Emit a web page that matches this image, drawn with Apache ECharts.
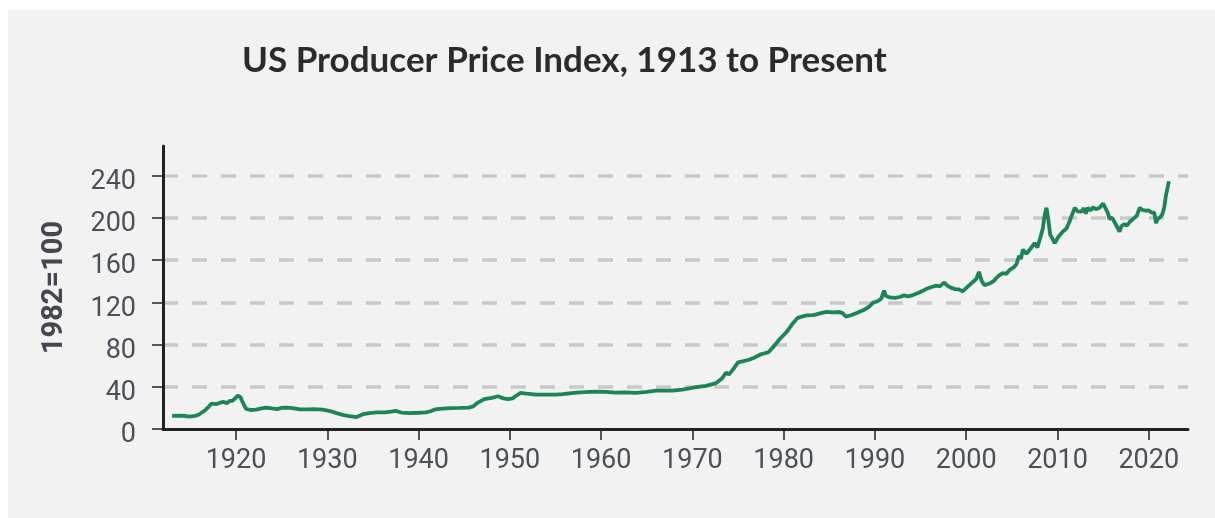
<!DOCTYPE html>
<html>
<head>
<meta charset="utf-8">
<script src="https://cdn.jsdelivr.net/npm/echarts@6/dist/echarts.min.js"></script>
<style>
  html, body { margin: 0; padding: 0; background: #fff; }
  #panel { position: absolute; left: 8px; top: 10px; width: 1207px; height: 508px; background: #f2f2f2; }
  #main { position: absolute; left: 0; top: 0; width: 1215px; height: 518px; }
</style>
</head>
<body>
<div id="panel"></div>
<div id="main"></div>
<script>
// PPI (1982=100)
var years = [
  1913.0, 1913.8, 1914.5, 1914.9, 1915.5, 1915.9, 1916.5, 1917.0, 1917.3, 1917.8,
  1918.3, 1918.6, 1919.0, 1919.3, 1919.6, 1919.9, 1920.2, 1920.5, 1920.8, 1921.1,
  1921.6, 1922.2, 1922.8, 1923.3, 1923.9, 1924.5, 1925.0, 1925.5, 1926.2, 1927.0,
  1927.8, 1928.5, 1929.5, 1930.3, 1931.0, 1931.8, 1932.4, 1933.2, 1933.6, 1933.9,
  1934.6, 1935.4, 1936.3, 1937.0, 1937.5, 1938.1, 1939.0, 1940.0, 1940.8, 1941.3,
  1941.8, 1942.3, 1943.5, 1944.5, 1945.5, 1946.0, 1946.5, 1947.2, 1948.0, 1948.7,
  1949.3, 1949.8, 1950.3, 1950.6, 1951.2, 1951.8, 1952.9, 1954.0, 1955.0, 1955.8,
  1957.0, 1958.2, 1959.4, 1960.5, 1961.6, 1962.7, 1963.8, 1965.0, 1966.0, 1966.7,
  1967.8, 1968.9, 1969.8, 1970.4, 1971.5, 1972.6, 1973.2, 1973.5, 1973.7, 1974.0,
  1974.5, 1975.0, 1975.5, 1976.2, 1976.9, 1977.5, 1978.3, 1978.9, 1979.5, 1980.0,
  1980.4, 1981.0, 1981.5, 1982.0, 1982.5, 1983.2, 1983.6, 1984.2, 1984.7, 1985.3,
  1986.1, 1986.5, 1986.8, 1987.3, 1987.6, 1988.2, 1988.7, 1989.3, 1989.8, 1990.3,
  1990.7, 1991.0, 1991.2, 1991.6, 1992.2, 1992.7, 1993.2, 1993.6, 1994.1, 1994.8,
  1995.6, 1996.2, 1996.7, 1997.1, 1997.6, 1997.9, 1998.3, 1998.8, 1999.2, 1999.6,
  2000.2, 2000.7, 2001.1, 2001.4, 2001.7, 2002.0, 2002.5, 2003.0, 2003.3, 2003.6,
  2004.0, 2004.4, 2004.8, 2005.2, 2005.5, 2005.8, 2006.0, 2006.2, 2006.6, 2007.1,
  2007.5, 2007.8, 2008.1, 2008.4, 2008.6, 2008.8, 2009.0, 2009.2, 2009.4, 2009.7,
  2010.1, 2010.6, 2011.0, 2011.3, 2011.6, 2011.9, 2012.2, 2012.6, 2012.9, 2013.1,
  2013.3, 2013.6, 2013.9, 2014.2, 2014.6, 2015.0, 2015.2, 2015.5, 2015.7, 2016.0,
  2016.2, 2016.5, 2016.8, 2017.0, 2017.3, 2017.6, 2017.9, 2018.3, 2018.7, 2019.0,
  2019.3, 2019.7, 2020.0, 2020.3, 2020.6, 2020.8, 2021.0, 2021.3, 2021.5, 2021.7,
  2021.9, 2022.1, 2022.2
];
var ppi = [
  12.5, 12.6, 12.3, 11.8, 12.4, 13.5, 17, 21, 24, 23.5,
  25, 25.7, 24.5, 26.5, 26.7, 29, 31.7, 30, 24, 19,
  18, 18.3, 19.5, 20.3, 19.5, 18.8, 20, 20.3, 19.8, 18.5,
  18.6, 18.8, 18.3, 17, 15, 13.2, 12.3, 11.3, 12.8, 14,
  15, 15.7, 15.8, 16.5, 17.2, 15.6, 15.1, 15.4, 15.8, 16.8,
  18.5, 19, 19.8, 20, 20.3, 21.5, 25, 28.3, 29.5, 31,
  29, 28.3, 29, 31, 34.3, 33.5, 32.5, 32.5, 32.6, 33,
  34.3, 35, 35.3, 35.2, 34.5, 34.6, 34.3, 35.2, 36.3, 36.3,
  36.4, 37.2, 38.6, 39.7, 40.8, 43.5, 47.5, 51, 53.5, 51.5,
  57, 63, 64, 65.6, 68, 70.8, 72.5, 78, 84.5, 89,
  92.7, 100, 105, 106.5, 107.6, 107.8, 108.5, 110, 111, 110.5,
  110.8, 109.5, 106.5, 107.5, 108.5, 110.5, 112.4, 115.5, 119.7, 121,
  123.5, 131, 126, 124.7, 124.2, 125, 126.5, 125.6, 126.6, 129,
  132.5, 134.5, 135.7, 135, 138.8, 136, 133.9, 132.5, 132.2, 130.4,
  135, 139, 142, 148.8, 140, 136.2, 137.5, 140, 143, 145.5,
  147.5, 147, 151, 153, 156, 164, 161, 170, 166, 171.4,
  176, 172, 180.7, 190, 203, 209.5, 198, 184, 181, 176,
  182, 187, 190, 196, 203, 209.5, 206, 205.8, 209, 204,
  209.5, 207, 210, 208, 209.5, 213.5, 213, 205, 199, 200,
  199, 192, 187, 192, 194, 192.5, 196, 199, 202, 209.5,
  207.5, 206.7, 207, 205, 205, 195, 199, 201, 203.5, 210,
  222, 230, 234.6
];
var yTicks = [0, 40, 80, 120, 160, 200, 240];
var xTicks = [1920, 1930, 1940, 1950, 1960, 1970, 1980, 1990, 2000, 2010, 2020];

var lineData = years.map(function (y, i) { return [y, ppi[i]]; });

var myChart = echarts.init(document.getElementById('main'));
var option = {
    backgroundColor: 'transparent',
    animation: false,
    title: {
        text: 'US Producer Price Index, 1913 to Present',
        left: 237,
        top: 38,
        textStyle: {
            fontFamily: 'Lato',
            fontWeight: 'bold',
            fontSize: 35,
            color: '#2b2b2e'
        }
    },
    grid: {
        left: 163,
        right: 27,
        top: 146,
        bottom: 89
    },
    xAxis: {
        type: 'value',
        min: 1912,
        max: 2024.3,
        axisLine: { lineStyle: { color: '#222', width: 3 } },
        axisTick: {
            customValues: xTicks,
            length: 11,
            lineStyle: { color: '#222', width: 1.5 }
        },
        axisLabel: {
            customValues: xTicks,
            margin: 19,
            fontFamily: 'Roboto',
            fontSize: 27,
            color: '#4b4f58',
            formatter: function (v) { return String(v); }
        },
        splitLine: { show: false }
    },
    yAxis: {
        type: 'value',
        min: 0,
        max: 268,
        name: '1982=100',
        nameLocation: 'middle',
        nameRotate: 90,
        nameGap: 94,
        nameTextStyle: {
            fontFamily: 'Roboto',
            fontWeight: 'bold',
            fontSize: 29,
            color: '#44474f'
        },
        axisLine: { show: true, lineStyle: { color: '#222', width: 3 } },
        axisTick: {
            show: true,
            customValues: yTicks,
            length: 11,
            lineStyle: { color: '#222', width: 1.5 }
        },
        axisLabel: {
            customValues: yTicks,
            margin: 27,
            verticalAlign: 'top',
            lineHeight: 13,
            fontFamily: 'Roboto',
            fontSize: 27,
            color: '#4b4f58'
        },
        splitLine: {
            show: true,
            showMinLine: false,
            lineStyle: { color: '#c9c9c9', width: 3.5, type: [15, 14] }
        }
    },
    series: [
        {
            type: 'line',
            data: lineData,
            showSymbol: false,
            symbol: 'none',
            lineStyle: { color: '#1c8556', width: 3.8 }
        }
    ]
};
myChart.setOption(option);
</script>
</body>
</html>
